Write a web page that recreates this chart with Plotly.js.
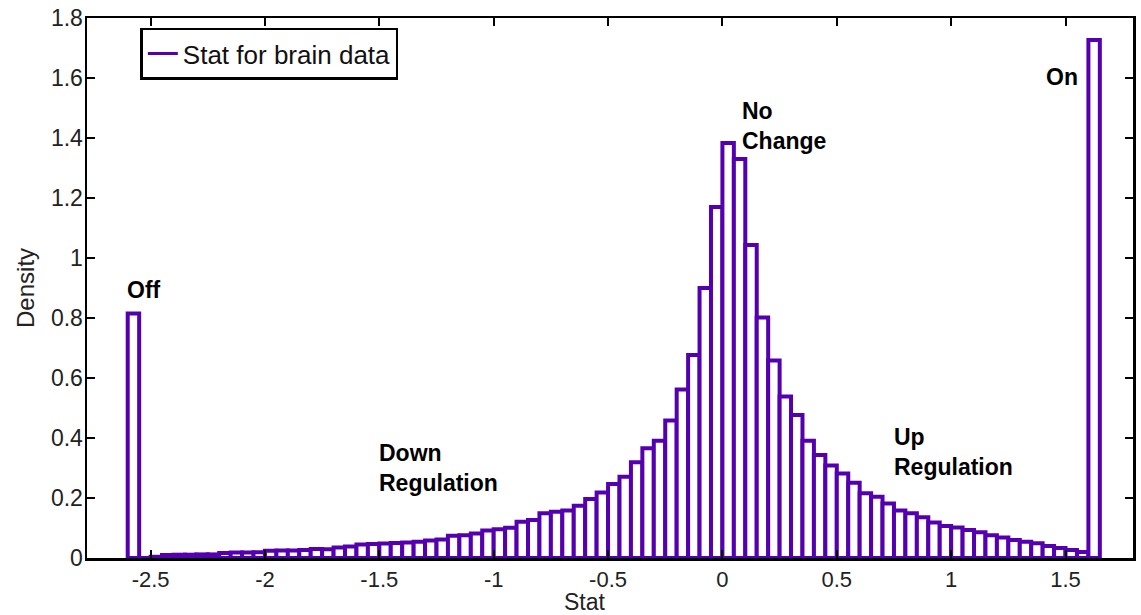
<!DOCTYPE html>
<html>
<head>
<meta charset="utf-8">
<script src="https://cdn.plot.ly/plotly-3.0.1.min.js"></script>
<style>html,body{margin:0;padding:0;background:#fff;}#chart{width:1141px;height:615px;}</style>
</head>
<body>
<div id="chart"></div>
<script>
// Bin left edges (width 0.05) and densities
const binWidth = 0.05;
const binStart = -2.6;
const densities = [
  0.815, // Off bin [-2.60,-2.55]
  0.0, 0.004, 0.010, 0.011, 0.011, 0.012, 0.012,
  0.017, 0.018, 0.018, 0.019,
  0.024, 0.025, 0.025, 0.027,
  0.030, 0.029, 0.035, 0.038, 0.045, 0.047, 0.048, 0.050, 0.052, 0.054, 0.058, 0.062,
  0.074, 0.076, 0.082, 0.092,
  0.096, 0.101, 0.121, 0.127, 0.149, 0.154, 0.158, 0.174, 0.197, 0.218,
  0.247, 0.271, 0.319, 0.366, 0.391, 0.458, 0.562, 0.677, 0.900, 1.170,
  1.383, 1.330, 1.043, 0.802, 0.658, 0.538, 0.477, 0.391, 0.343, 0.308,
  0.282, 0.251, 0.216, 0.204, 0.182, 0.158, 0.149, 0.136, 0.118, 0.107,
  0.102, 0.093, 0.086, 0.076, 0.068, 0.060, 0.054, 0.049, 0.040, 0.033,
  0.027, 0.020,
  1.727  // On bin [1.60,1.65]
];
const binCenters = densities.map((d, i) => +(binStart + binWidth * (i + 0.5)).toFixed(4));

const xTicks = [-2.5, -2, -1.5, -1, -0.5, 0, 0.5, 1, 1.5];
const xTickText = ['-2.5', '-2', '-1.5', '-1', '-0.5', '0', '0.5', '1', '1.5'];
const yTicks = [0, 0.2, 0.4, 0.6, 0.8, 1, 1.2, 1.4, 1.6, 1.8];
const yTickText = ['0', '0.2', '0.4', '0.6', '0.8', '1', '1.2', '1.4', '1.6', '1.8'];

const labelTexts = ['Off', 'No<br>Change', 'On', 'Down<br>Regulation', 'Up<br>Regulation'];
const labelX = [-2.61, 0.075, 1.405, -1.51, 0.742];
const labelY = [0.893, 1.44, 1.603, 0.30, 0.353];

const xTitle = 'Stat';
const yTitle = 'Density';
const seriesName = 'Stat for brain data';

const purple = '#5500b0';
const font = 'Arial, "Liberation Sans", sans-serif';

const traces = [
  {
    type: 'bar',
    x: binCenters,
    y: densities,
    width: binWidth,
    marker: {color: '#ffffff', line: {color: purple, width: 4}},
    showlegend: false,
    hoverinfo: 'x+y'
  },
  {
    type: 'scatter',
    mode: 'lines',
    x: [null],
    y: [null],
    name: seriesName,
    line: {color: purple, width: 3}
  }
];

const annotations = labelTexts.map((t, i) => ({
  x: labelX[i], y: labelY[i], xref: 'x', yref: 'y',
  text: '<b>' + t + '</b>', showarrow: false,
  xanchor: 'left', yanchor: 'middle', align: 'left',
  font: {family: font, size: 23, color: '#000'}
}));
annotations.push({
  x: 0.476, y: -0.0815, xref: 'paper', yref: 'paper',
  text: xTitle, showarrow: false, xanchor: 'center', yanchor: 'middle',
  font: {family: font, size: 23, color: '#222'}
});
annotations.push({
  x: -0.0593, y: 0.5, xref: 'paper', yref: 'paper', textangle: -90,
  text: yTitle, showarrow: false, xanchor: 'center', yanchor: 'middle',
  font: {family: font, size: 24, color: '#222'}
});

const layout = {
  width: 1141, height: 615,
  margin: {l: 87, r: 8, t: 18, b: 57},
  paper_bgcolor: '#fff', plot_bgcolor: '#fff',
  bargap: 0,
  showlegend: true,
  legend: {
    x: 0.051, y: 0.982, xanchor: 'left', yanchor: 'top',
    bgcolor: '#fff', bordercolor: '#000', borderwidth: 2.5,
    font: {family: font, size: 26, color: '#111'},
    itemwidth: 30, tracegroupgap: 0
  },
  xaxis: {
    range: [-2.778, 1.795],
    tickvals: xTicks, ticktext: xTickText,
    ticks: 'inside', ticklen: 8, tickwidth: 2, tickcolor: '#000',
    showline: true, linecolor: '#000', linewidth: 2.5, mirror: 'ticks',
    showgrid: false, zeroline: false,
    tickfont: {family: font, size: 22, color: '#222'}
  },
  yaxis: {
    range: [0, 1.8],
    tickvals: yTicks, ticktext: yTickText,
    ticks: 'inside', ticklen: 8, tickwidth: 2, tickcolor: '#000',
    showline: true, linecolor: '#000', linewidth: 2.5, mirror: 'ticks',
    showgrid: false, zeroline: false,
    ticklabelstandoff: -3,
    tickfont: {family: font, size: 23, color: '#222'}
  },
  annotations: annotations
};

Plotly.newPlot('chart', traces, layout, {displayModeBar: false, staticPlot: true});
</script>
</body>
</html>
